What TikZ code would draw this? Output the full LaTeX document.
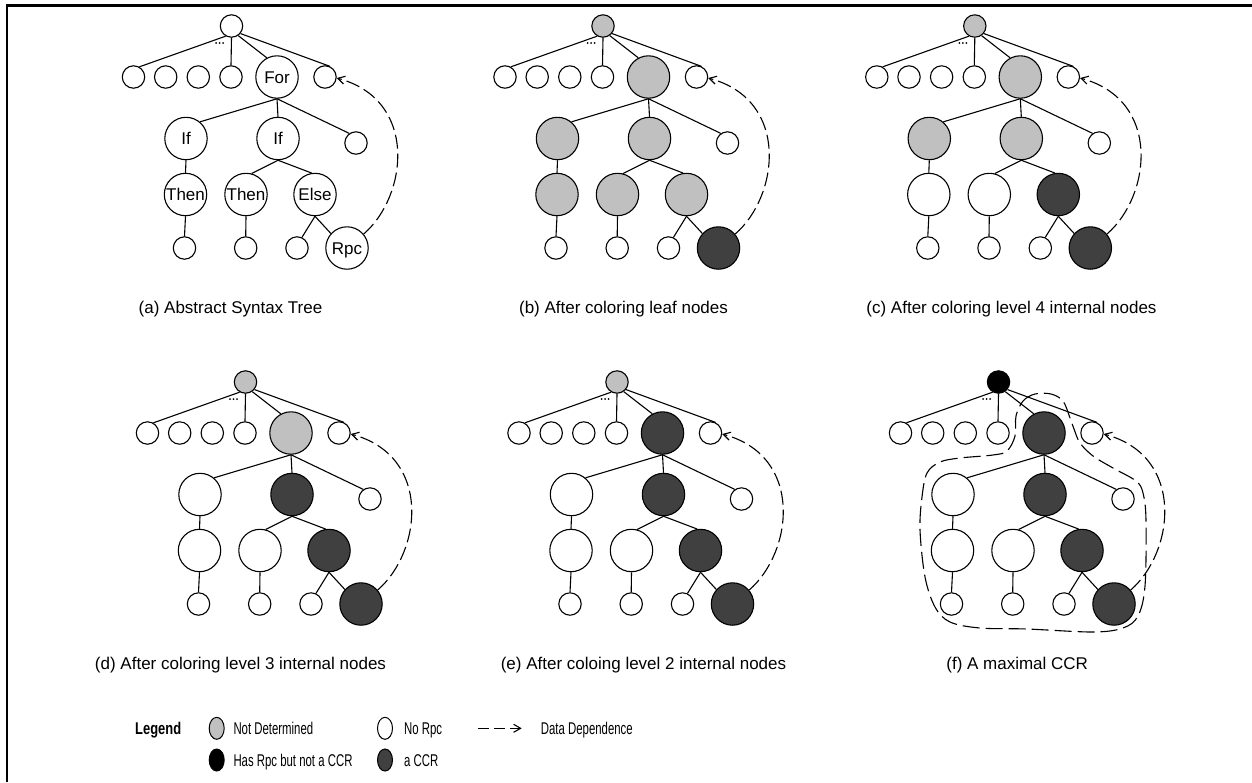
\documentclass[tikz,border=0pt]{standalone}
\usepackage{fontspec}
\setmainfont{Liberation Sans}
\usepackage{graphicx}
\usetikzlibrary{arrows.meta,shapes.geometric}

\definecolor{ndgray}{RGB}{192,192,192}
\definecolor{ccrgray}{RGB}{64,64,64}

% horizontally condensed text for the legend
\newcommand\hsq[2][0.67]{\scalebox{#1}[1]{#2}}

\tikzset{
  txt/.style={font=\fontsize{17}{20}\selectfont},
  treenode/.style={circle, draw, line width=1.1pt, inner sep=0pt, fill=white},
  smallc/.style={treenode, minimum size=22.4pt},
  bigc/.style={treenode, minimum size=42.4pt},
  lbl/.style={txt, inner sep=0pt, text height=12.2pt, text depth=0pt},
  % node states
  nd/.style={fill=ndgray},
  norpc/.style={fill=white},
  ccr/.style={fill=ccrgray},
  hasrpc/.style={fill=black},
  % per-tree colouring hooks (white by default)
  kr/.style={}, kfor/.style={}, kifa/.style={}, kifb/.style={},
  ktha/.style={}, kthb/.style={}, kels/.style={}, krpc/.style={},
  edge/.style={line width=1.1pt},
  dep/.style={line width=1.1pt, dash pattern=on 14pt off 5pt,
              -{Straight Barb[length=7pt,width=8pt,line width=1.1pt]}},
  region/.style={line width=1.1pt, dash pattern=on 17pt off 6pt},
  caption/.style={txt, anchor=base, inner sep=0pt},
  lgdtext/.style={txt, anchor=base west, inner sep=0pt},
  lgdcirc/.style={ellipse, draw, line width=1pt, inner sep=0pt,
                  minimum width=15pt, minimum height=22pt},
}

% #1 name prefix, #2 shift, #3 colouring styles
\newcommand\asttree[3]{%
\begin{scope}[shift={#2},#3]
  \node[smallc,kr]   (#1r)   at (231.5,26) {};
  \node[smallc]      (#1s1)  at (133.5,77) {};
  \node[smallc]      (#1s2)  at (165.7,77) {};
  \node[smallc]      (#1s3)  at (198.3,77) {};
  \node[smallc]      (#1s4)  at (231,77) {};
  \node[bigc,kfor]   (#1for) at (277,77) {};
  \node[smallc]      (#1s6)  at (325,77) {};
  \node[bigc,kifa]   (#1ifa) at (186,138.5) {};
  \node[bigc,kifb]   (#1ifb) at (278,138.5) {};
  \node[smallc]      (#1s7)  at (356,143) {};
  \node[bigc,ktha]   (#1tha) at (185.5,194.5) {};
  \node[bigc,kthb]   (#1thb) at (246,194.5) {};
  \node[bigc,kels]   (#1els) at (315,194.5) {};
  \node[smallc]      (#1l1)  at (184.5,248) {};
  \node[smallc]      (#1l2)  at (245.7,248) {};
  \node[smallc]      (#1l3)  at (297,248) {};
  \node[bigc,krpc]   (#1rpc) at (347,248) {};
  \draw[edge] (#1r.240) -- (#1s1.60);
  \draw[edge] (#1r.south) -- (#1s4.north);
  \draw[edge] (#1r.-55) -- (#1for.118);
  \draw[edge] (#1r.-40) -- (#1s6.65);
  \draw[edge] (#1for.south) -- (#1ifa.50);
  \draw[edge] (#1for.south) -- (#1ifb.north);
  \draw[edge] (#1for.south) -- (#1s7.125);
  \draw[edge] (#1ifa.south) -- (#1tha.north);
  \draw[edge] (#1ifb.south) -- (#1thb.75);
  \draw[edge] (#1ifb.south) -- (#1els.99);
  \draw[edge] (#1tha.south) -- (#1l1.north);
  \draw[edge] (#1thb.south) -- (#1l2.north);
  \draw[edge] (#1els.south) -- (#1l3.65);
  \draw[edge] (#1els.south) -- (#1rpc.138);
  % elided siblings
  \fill (216,43) circle (1pt) (219.5,43) circle (1pt) (223,43) circle (1pt);
  % data dependence
  \draw[dep] (#1rpc.40) .. controls +(44,-38) and +(82,22) .. (#1s6.-5);
\end{scope}}

\begin{document}
\begin{tikzpicture}[x=1pt,y=-1pt]
\useasboundingbox (0,0) rectangle (1252,782);

% frame
\draw[line width=2.7pt] (7,782) -- (7,5.3) -- (1252,5.3);

% (a) abstract syntax tree
\asttree{a}{(0,0)}{
  kfor/.style={label={[lbl]center:For}},
  kifa/.style={label={[lbl]center:If}},
  kifb/.style={label={[lbl]center:If}},
  ktha/.style={label={[lbl]center:Then}},
  kthb/.style={label={[lbl]center:Then}},
  kels/.style={label={[lbl]center:Else}},
  krpc/.style={label={[lbl]center:Rpc}}}
% (b) leaves coloured
\asttree{b}{(371.5,0)}{kr/.style={nd}, kfor/.style={nd}, kifa/.style={nd},
  kifb/.style={nd}, ktha/.style={nd}, kthb/.style={nd}, kels/.style={nd},
  krpc/.style={ccr}}
% (c) level 4
\asttree{c}{(743.3,0)}{kr/.style={nd}, kfor/.style={nd}, kifa/.style={nd},
  kifb/.style={nd}, ktha/.style={norpc}, kthb/.style={norpc}, kels/.style={ccr},
  krpc/.style={ccr}}
% (d) level 3
\asttree{d}{(14,356)}{kr/.style={nd}, kfor/.style={nd}, kifa/.style={norpc},
  kifb/.style={ccr}, ktha/.style={norpc}, kthb/.style={norpc}, kels/.style={ccr},
  krpc/.style={ccr}}
% (e) level 2
\asttree{e}{(385.5,356)}{kr/.style={nd}, kfor/.style={ccr}, kifa/.style={norpc},
  kifb/.style={ccr}, ktha/.style={norpc}, kthb/.style={norpc}, kels/.style={ccr},
  krpc/.style={ccr}}
% (f) maximal CCR
\asttree{f}{(767,356)}{kr/.style={hasrpc}, kfor/.style={ccr}, kifa/.style={norpc},
  kifb/.style={ccr}, ktha/.style={norpc}, kthb/.style={norpc}, kels/.style={ccr},
  krpc/.style={ccr}}
\begin{scope}[shift={(767,356)}]
  \draw[region] plot[smooth cycle, tension=0.55] coordinates {
    (249,60) (256,45) (268,38) (284,38) (296,45) (303,62) (307,73)
    (313,87) (326,100) (346,112) (369,125) (376,137) (379,164)
    (378,230) (371,260) (356,272) (326,276) (260,273) (213,272)
    (183,266) (168,251) (158,221) (153,174) (155,141) (160,117)
    (173,106) (193,102) (226,99) (240,95) (248,80)};
\end{scope}

% captions
\node[caption] (capa) at (230.5,313.3) {(a) Abstract Syntax Tree};
\node[caption] (capb) at (623.5,313.3) {(b) After coloring leaf nodes};
\node[caption] (capc) at (1011.5,313.3) {(c) After coloring level 4 internal nodes};
\node[caption] (capd) at (240.5,669.3) {(d) After coloring level 3 internal nodes};
\node[caption] (cape) at (643.5,669.3) {(e) After coloing level 2 internal nodes};
\node[caption] (capf) at (1017.2,669.3) {(f) A maximal CCR};

% legend
\node[lgdtext] (lgd) at (135,734.3) {\hsq[0.76]{\textbf{Legend}}};
\node[lgdcirc, fill=ndgray]   (lnd)  at (216.7,728.3) {};
\node[lgdcirc, fill=black]    (lhas) at (216.7,760) {};
\node[lgdcirc, fill=white]    (lno)  at (385,728.3) {};
\node[lgdcirc, fill=ccrgray]  (lccr) at (385,760) {};
\node[lgdtext] (tnd)  at (233.3,734.3) {\hsq{Not Determined}};
\node[lgdtext] (thas) at (233.3,766) {\hsq{Has Rpc but not a CCR}};
\node[lgdtext] (tno)  at (404,734.3) {\hsq{No Rpc}};
\node[lgdtext] (tccr) at (404,766) {\hsq{a CCR}};
\coordinate (depa) at (478.3,728.3);
\coordinate (depb) at (521.7,728.3);
\draw[dep, dash pattern=on 11pt off 5pt] (depa) -- (depb);
\node[lgdtext] (tdep) at (540.7,734.3) {\hsq{Data Dependence}};
\end{tikzpicture}
\end{document}
